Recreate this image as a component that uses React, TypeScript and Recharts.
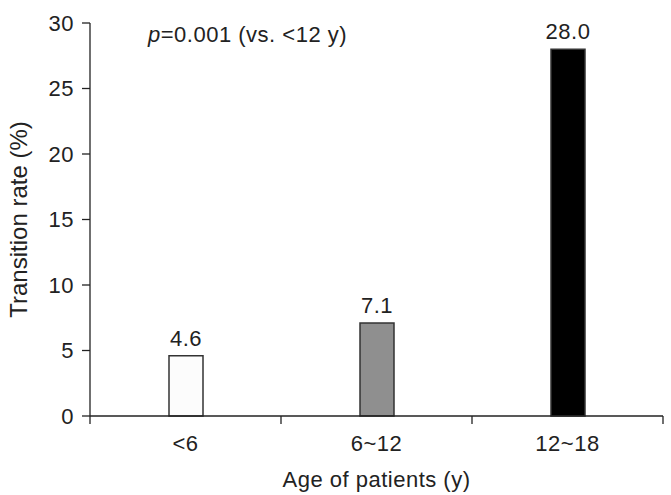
import { BarChart, Bar, XAxis, YAxis, Cell, LabelList, Customized } from "recharts";

const ageGroups = ["<6", "6~12", "12~18"];
const transitionRates = [4.6, 7.1, 28.0];
const barFills = ["#fcfcfc", "#8f8f8f", "#000000"];
const yTicks = [0, 5, 10, 15, 20, 25, 30];

const data = ageGroups.map((name, i) => ({ name, rate: transitionRates[i] }));

const W = 671;
const H = 495;
const margin = { top: 23, right: 8, left: 0, bottom: 0 };
const Y_AXIS_W = 90;
const X_AXIS_H = 79;
const TICK = 8;
const TICK_GAP = 10;
const FONT = "'Liberation Sans', Arial, sans-serif";
const FS = 22;
const SPACING = 0.5;
const INK = "#222";

const plotW = W - margin.left - margin.right - Y_AXIS_W;
const halfBand = plotW / ageGroups.length / 2;

// category label at the band centre, tick marks on the band edges
function AgeTick(props: any) {
  const { x, y, payload, index } = props;
  const axisY = y - TICK - TICK_GAP;
  return (
    <g>
      {index === 0 && (
        <line x1={x - halfBand} x2={x - halfBand} y1={axisY} y2={axisY + TICK} stroke={INK} strokeWidth={1.3} />
      )}
      <line x1={x + halfBand} x2={x + halfBand} y1={axisY} y2={axisY + TICK} stroke={INK} strokeWidth={1.3} />
      <text
        x={x}
        y={y + 17}
        textAnchor="middle"
        fontSize={FS}
        letterSpacing={SPACING}
        fill={INK}
        fontFamily={FONT}
      >
        {payload.value}
      </text>
    </g>
  );
}

function PNote() {
  return (
    <text x={148} y={41.5} fontSize={FS} letterSpacing={SPACING} fill={INK} fontFamily={FONT}>
      <tspan fontStyle="italic">p</tspan>=0.001 (vs. &lt;12 y)
    </text>
  );
}

export default function App() {
  return (
    <div style={{ position: "absolute", left: 0, top: 0, background: "#fff" }}>
      <BarChart width={W} height={H} data={data} margin={margin}>
        <XAxis
          dataKey="name"
          height={X_AXIS_H}
          tickLine={false}
          tickSize={TICK}
          tickMargin={TICK_GAP}
          axisLine={{ stroke: INK, strokeWidth: 1.3 }}
          tick={<AgeTick />}
          interval={0}
          label={{
            value: "Age of patients (y)",
            position: "insideBottom",
            offset: 8,
            fontSize: FS,
            letterSpacing: SPACING,
            fill: INK,
            fontFamily: FONT,
          }}
        />
        <YAxis
          width={Y_AXIS_W}
          domain={[0, 30]}
          ticks={yTicks}
          tickSize={TICK}
          tickMargin={8}
          axisLine={{ stroke: INK, strokeWidth: 1.3 }}
          tickLine={{ stroke: INK, strokeWidth: 1.3 }}
          tick={{ fontSize: FS, letterSpacing: SPACING, fill: INK, fontFamily: FONT }}
          label={({ viewBox }: any) => (
            <text
              x={18}
              y={viewBox.y + viewBox.height / 2}
              transform={`rotate(-90, 18, ${viewBox.y + viewBox.height / 2})`}
              textAnchor="middle"
              dominantBaseline="central"
              fontSize={24}
              fill={INK}
              fontFamily={FONT}
            >
              Transition rate (%)
            </text>
          )}
        />
        <Bar dataKey="rate" barSize={34} stroke="#333" strokeWidth={1.5} isAnimationActive={false}>
          {data.map((d, i) => (
            <Cell key={d.name} fill={barFills[i]} />
          ))}
          <LabelList
            dataKey="rate"
            position="top"
            offset={10}
            formatter={(v: any) => Number(v).toFixed(1)}
            style={{ fontSize: FS, letterSpacing: SPACING, fill: INK, fontFamily: FONT }}
          />
        </Bar>
        <Customized component={PNote} />
      </BarChart>
    </div>
  );
}
